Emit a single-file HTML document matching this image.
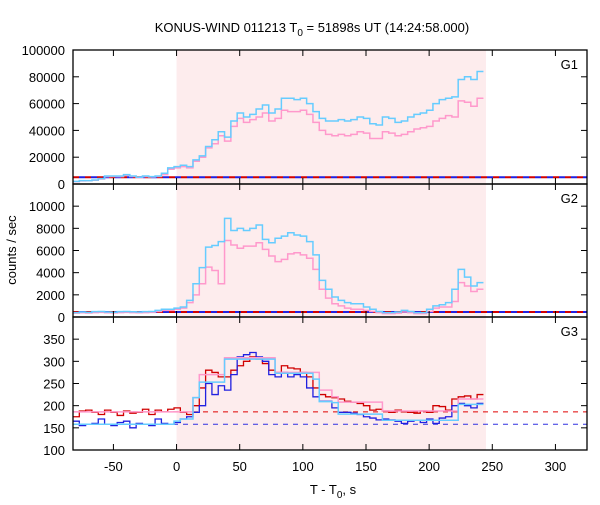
<!DOCTYPE html>
<html><head><meta charset="utf-8"><style>
body{margin:0;background:#fff;}
svg text{font-family:"Liberation Sans","DejaVu Sans",sans-serif;font-size:13px;fill:#000;}
</style></head><body>
<svg id="chart" width="600" height="500" xmlns="http://www.w3.org/2000/svg"></svg>
<script>
// ---- data (5 s bins starting at T = -82 s) ----
const binStart = -82;
const binWidth = 5;
const g1Total = [2000,2500,2500,3000,4000,6000,6000,6000,7000,6000,5000,6000,5500,6000,8000,12000,13000,14000,13000,18000,21000,28000,33000,39000,35000,47000,53000,50000,52000,56000,59000,53000,56000,64000,64000,63000,64000,60000,54000,49000,47000,47000,48000,47000,48000,50000,49000,45000,44000,50000,49000,46000,47000,50000,52000,53000,55000,60000,63000,64000,65000,78000,80000,78000,84000];
const g1Soft = [1800,2300,2400,2800,3700,5500,5600,5500,6500,5600,4700,5500,5200,5600,7000,11000,12000,13000,12000,17000,20000,27000,30000,36000,32000,43000,49000,46000,48000,50000,53000,47000,49000,55000,54000,54000,55000,52000,46000,40000,37000,36000,37000,36000,37000,39000,38000,34000,34000,39000,38000,36000,37000,39000,41000,42000,43000,47000,49000,51000,50000,62000,61000,58000,64000];
const g2Total = [400,450,420,480,500,450,430,480,500,470,450,480,500,600,700,700,800,900,1500,3000,4450,6300,6450,6800,8900,7800,8000,7800,8000,8300,7000,6700,7100,7300,7600,7400,7300,6800,5600,3300,2500,1800,1500,1300,1200,1200,900,700,500,400,400,450,600,500,400,400,700,1000,1100,1300,2500,4300,3600,2800,3100];
const g2Soft = [350,380,360,400,420,380,370,400,420,400,380,400,420,500,600,600,700,800,1300,2000,3000,4500,4200,3000,6900,6500,6200,6400,6400,6700,6100,5500,5000,5200,5700,5800,5600,5300,4300,2500,1700,1200,1000,800,700,700,600,500,400,300,300,350,450,400,300,300,500,800,900,900,1400,3100,2800,2300,2500];
const g3Red = [175,188,190,185,180,190,185,178,188,183,185,192,180,190,186,192,195,185,180,200,240,280,275,265,265,280,290,300,310,305,295,280,275,290,285,283,275,265,240,225,220,218,215,210,208,205,200,190,192,188,185,190,186,185,183,188,185,200,198,190,215,220,222,215,225];
const g3Blue = [165,155,158,160,170,158,155,162,165,150,160,158,155,170,160,158,162,170,175,185,200,250,225,245,235,270,310,315,320,310,300,270,265,275,265,270,265,240,220,210,210,195,185,185,183,180,175,172,168,170,168,165,160,165,167,162,170,160,172,175,200,205,200,195,205];
const g3Cyan = [158,158,158,158,158,158,158,158,158,158,158,158,158,158,158,158,165,170,170,218,253,253,253,253,305,305,305,305,305,305,305,305,273,273,273,273,273,273,260,209,209,207,181,181,181,181,181,181,181,167,167,167,167,167,167,167,167,167,167,167,167,203,203,203,203];
const g3Pink = [186,186,186,186,186,186,186,186,186,186,186,186,186,186,186,186,186,186,186,218,270,270,270,270,308,308,308,308,308,308,308,308,275,275,275,275,275,275,275,235,235,220,208,208,208,208,208,208,208,188,188,188,188,188,188,188,188,188,188,188,188,215,215,215,215];
const bg1 = [5000];
const bg2 = [450];
const bg3Red = [186];
const bg3Blue = [158];
const xTicks = [-50,0,50,100,150,200,250,300];
const y1Ticks = [0,20000,40000,60000,80000,100000];
const y2Ticks = [0,2000,4000,6000,8000,10000];
const y3Ticks = [100,150,200,250,300,350];

const svg = document.getElementById('chart');
const NS = 'http://www.w3.org/2000/svg';
const L = 73, R = 587, xMin = -82, xMax = 325;
const X = t => L + (t - xMin) / (xMax - xMin) * (R - L);
const panels = [
  {top:50, bot:184, min:0, max:100000, ticks:y1Ticks, label:'G1'},
  {top:184, bot:317, min:0, max:12000, ticks:y2Ticks, label:'G2'},
  {top:317, bot:450, min:100, max:400, ticks:y3Ticks, label:'G3'}
];
function mk(tag, attrs){const e=document.createElementNS(NS,tag);for(const k in attrs)e.setAttribute(k,attrs[k]);svg.appendChild(e);return e;}
function Yf(p){return v => p.bot - (v - p.min)/(p.max - p.min)*(p.bot - p.top);}

// shaded interval
panels.forEach((p,i)=>{
  const r = mk('rect',{x:X(0),y:p.top,width:X(245)-X(0),height:p.bot-p.top,fill:'#fdeced'});
  
  
});

function stepPath(vals, p, color, name, w){
  const Y = Yf(p);
  let d = '';
  vals.forEach((v,i)=>{
    const x0 = X(binStart + i*binWidth), x1 = X(binStart + (i+1)*binWidth);
    d += (i===0 ? 'M'+x0+','+Y(v) : 'L'+x0+','+Y(v)) + 'L'+x1+','+Y(v);
  });
  const e = mk('path',{d:d,fill:'none',stroke:color,'stroke-width':w||1.5});
  
  
}
function dashLine(v, p, color, name, dash, off){
  const Y = Yf(p);
  const e = mk('line',{x1:L,x2:R,y1:Y(v),y2:Y(v),stroke:color,'stroke-width':p===panels[2]?1:2,'stroke-dasharray':dash,'stroke-dashoffset':off||0});
  
  
}
dashLine(bg1[0], panels[0], '#d00000', 'g1-background-red', '6,6', 0);
dashLine(bg1[0], panels[0], '#2020e0', 'g1-background-blue', '6,6', 6);
stepPath(g1Soft, panels[0], '#ff99cc', 'g1-soft-series');
stepPath(g1Total, panels[0], '#66ccff', 'g1-total-series');
dashLine(bg2[0], panels[1], '#2020e0', 'g2-background-blue', '6,6', 6);
dashLine(bg2[0], panels[1], '#d00000', 'g2-background-red', '6,6', 0);
stepPath(g2Soft, panels[1], '#ff99cc', 'g2-soft-series');
stepPath(g2Total, panels[1], '#66ccff', 'g2-total-series');
dashLine(bg3Red[0], panels[2], '#e00000', 'g3-background-red', '5,5', 0);
dashLine(bg3Blue[0], panels[2], '#3030e0', 'g3-background-blue', '5,5', 0);
stepPath(g3Red, panels[2], '#d00000', 'g3-red-series', 1.3);
stepPath(g3Blue, panels[2], '#2020e0', 'g3-blue-series', 1.3);
stepPath(g3Pink, panels[2], '#ff99cc', 'g3-pink-series', 1.5);
stepPath(g3Cyan, panels[2], '#66ccff', 'g3-cyan-series', 1.5);

// axes
panels.forEach((p,i)=>{
  const Y = Yf(p);
  const b = mk('rect',{x:L,y:p.top,width:R-L,height:p.bot-p.top,fill:'none',stroke:'#000','stroke-width':1.3});
  
  
  p.ticks.forEach(v=>{
    const y = Y(v);
    mk('line',{x1:L,x2:L+6,y1:y,y2:y,stroke:'#000','stroke-width':1});
    mk('line',{x1:R-6,x2:R,y1:y,y2:y,stroke:'#000','stroke-width':1});
    const t = mk('text',{x:L-8,y:y+5,'text-anchor':'end'});
    t.textContent = v;
    
    
  });
  xTicks.forEach(v=>{
    const x = X(v);
    mk('line',{x1:x,x2:x,y1:p.bot,y2:p.bot-6,stroke:'#000','stroke-width':1});
    mk('line',{x1:x,x2:x,y1:p.top,y2:p.top+6,stroke:'#000','stroke-width':1});
  });
  const lg = mk('text',{x:578,y:p.top+19,'text-anchor':'end'});
  lg.textContent = p.label;
  
  
});
xTicks.forEach(v=>{
  const t = mk('text',{x:X(v),y:471,'text-anchor':'middle'});
  t.textContent = v;
  
  
});
</script>
<svg width="600" height="500" style="position:absolute;left:0;top:0">
<text x="312" y="32" text-anchor="middle" style="font-family:'Liberation Sans',sans-serif;font-size:13px">KONUS-WIND 011213 T<tspan dy="4" font-size="10">0</tspan><tspan dy="-4"> = 51898s UT (14:24:58.000)</tspan></text>
<text x="333" y="494" text-anchor="middle" style="font-family:'Liberation Sans',sans-serif;font-size:13px">T - T<tspan dy="4" font-size="10">0</tspan><tspan dy="-4">, s</tspan></text>
<text transform="translate(16,250) rotate(-90)" text-anchor="middle" style="font-family:'Liberation Sans',sans-serif;font-size:13px">counts / sec</text>
</svg>
</body></html>
